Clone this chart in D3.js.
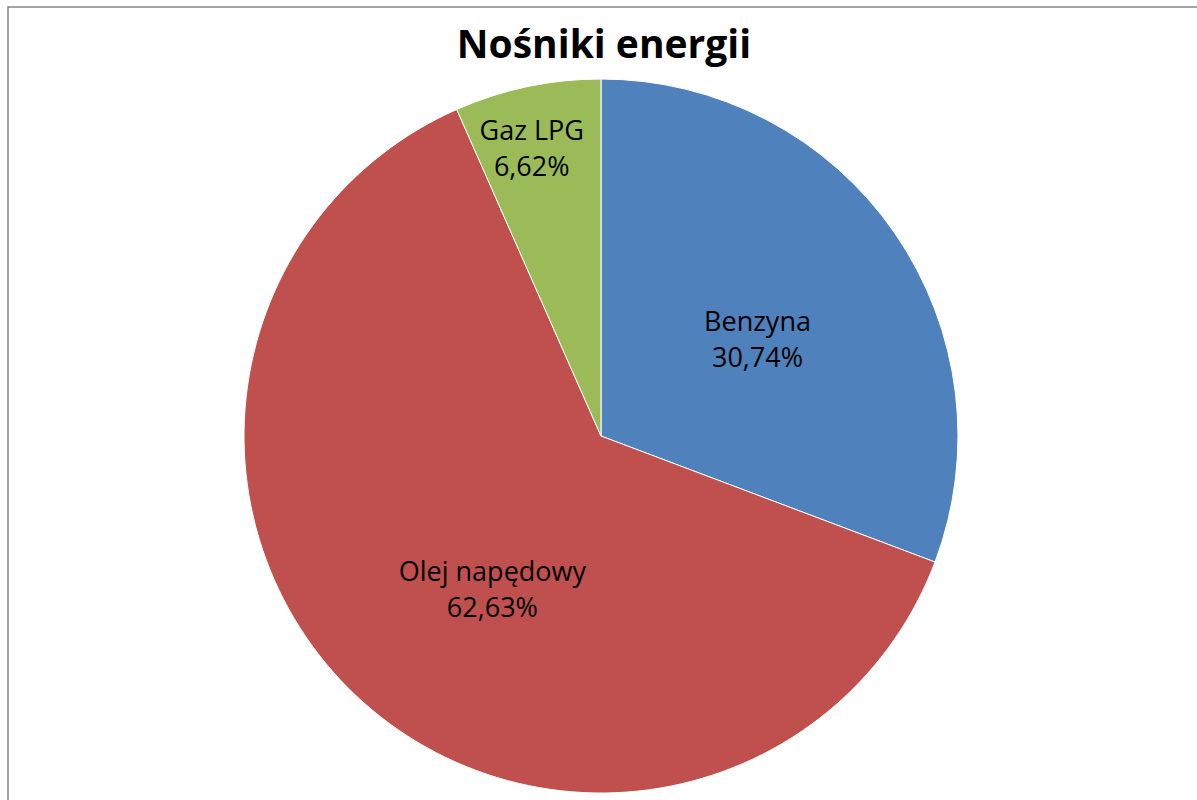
<!DOCTYPE html>
<html>
<head>
<meta charset="utf-8">
<script src="https://cdn.jsdelivr.net/npm/d3@7"></script>
<style>
  body { margin: 0; background: #fff; }
  text { font-family: "Open Sans", "Liberation Sans", sans-serif; }
</style>
</head>
<body>
<svg id="chart" width="1197" height="800"></svg>
<script>
// data
const categories = ["Benzyna", "Olej napędowy", "Gaz LPG"];
const values = [30.74, 62.63, 6.62];
const colors = ["#4F81BD", "#C0504D", "#9BBB59"];

// label placement (fraction of radius, angle shift in degrees) - excel "best fit"
const labelRadius = [0.515, 0.525, 0.83];
const labelShift = [3, -8, -1.6];

const svg = d3.select("#chart");
const cx = 601, cy = 436, r = 357;

// chart frame
svg.append("rect")
  .attr("x", 8).attr("y", 7)
  .attr("width", 1300).attr("height", 900)
  .attr("fill", "none")
  .attr("stroke", "#868686")
  .attr("stroke-width", 1.5);

// title
svg.append("text")
  .attr("x", 604).attr("y", 58)
  .attr("text-anchor", "middle")
  .attr("font-size", 39)
  .attr("font-weight", "bold")
  .text("Nośniki energii");

const data = categories.map((c, i) => ({ name: c, value: values[i], i: i }));

const pie = d3.pie().sort(null).value(d => d.value);
const arc = d3.arc().innerRadius(0).outerRadius(r);
const arcs = pie(data);

const g = svg.append("g").attr("transform", "translate(" + cx + "," + cy + ")");

g.selectAll("path")
  .data(arcs)
  .enter()
  .append("path")
  .attr("d", arc)
  .attr("fill", d => colors[d.data.i])
  .attr("stroke", "#fff")
  .attr("stroke-width", 1);

// labels
const fmt = v => v.toFixed(2).replace(".", ",") + "%";
const lbl = g.selectAll(".lbl")
  .data(arcs)
  .enter()
  .append("text")
  .attr("class", "lbl")
  .attr("text-anchor", "middle")
  .attr("font-size", 27)
  .attr("fill", "#000")
  .attr("transform", d => {
    const a = (d.startAngle + d.endAngle) / 2 + labelShift[d.data.i] * Math.PI / 180;
    const rr = r * labelRadius[d.data.i];
    return "translate(" + (Math.sin(a) * rr) + "," + (-Math.cos(a) * rr) + ")";
  });

lbl.append("tspan").attr("x", 0).attr("y", -8).text(d => d.data.name);
lbl.append("tspan").attr("x", 0).attr("y", 28).text(d => fmt(d.data.value));
</script>
</body>
</html>
